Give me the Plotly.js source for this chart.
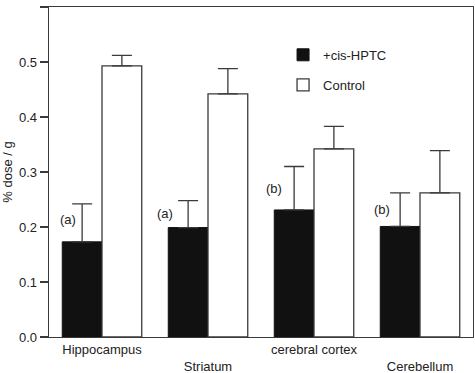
<!DOCTYPE html>
<html>
<head>
<meta charset="utf-8">
<script src="https://cdn.plot.ly/plotly-3.0.1.min.js"></script>
<style>html,body{margin:0;padding:0;background:#fff;}#chart{width:475px;height:373px;}</style>
</head>
<body>
<div id="chart"></div>
<script>
// Data
var categories = ["Hippocampus", "Striatum", "cerebral cortex", "Cerebellum"];
var hptcValues = [0.173, 0.199, 0.231, 0.201];
var hptcErrors = [0.069, 0.049, 0.079, 0.061];
var controlValues = [0.493, 0.442, 0.342, 0.262];
var controlErrors = [0.019, 0.046, 0.041, 0.077];
var seriesNames = ["+cis-HPTC", "Control"];
var sigLabels = ["(a)", "(a)", "(b)", "(b)"];
var sigY = [0.213, 0.225, 0.270, 0.231];
var sigOffset = [-0.325, -0.406, -0.377, -0.358];
var yTicks = [0.0, 0.1, 0.2, 0.3, 0.4, 0.5, 0.6];

var FONT = "Liberation Sans, Arial, Helvetica, sans-serif";
var LINE = "#3a3a3a";

function zeros(n){ var a=[]; for(var i=0;i<n;i++) a.push(0); return a; }

// staggered category labels
var tickText = categories.map(function(c, i){ return i % 2 === 1 ? "<br>" + c : c; });

var traces = [
  {
    type: "bar", name: seriesNames[0], x: categories, y: hptcValues,
    marker: {color: "#111111", line: {color: "#111111", width: 1}},
    error_y: {type: "data", symmetric: false, array: hptcErrors, arrayminus: zeros(4),
              color: LINE, thickness: 1.3, width: 10},
    legend: "legend"
  },
  {
    type: "bar", name: seriesNames[1], x: categories, y: controlValues,
    marker: {color: "#ffffff", line: {color: LINE, width: 1.3}},
    error_y: {type: "data", symmetric: false, array: controlErrors, arrayminus: zeros(4),
              color: LINE, thickness: 1.3, width: 10},
    legend: "legend2"
  }
];

var annotations = sigLabels.map(function(t, i){
  return {x: i + sigOffset[i], y: sigY[i], xref: "x", yref: "y", text: t, showarrow: false,
          font: {family: FONT, size: 13, color: "#222"}};
});

var layout = {
  width: 475, height: 373,
  margin: {l: 49, r: 2, t: 7, b: 36},
  paper_bgcolor: "#fff", plot_bgcolor: "#fff",
  font: {family: FONT, size: 13, color: "#222"},
  barmode: "group", bargap: 0.25, bargroupgap: 0,
  showlegend: true,
  legend: {x: 0.552, y: 0.855, xanchor: "left", yanchor: "middle", bgcolor: "rgba(0,0,0,0)",
           font: {family: FONT, size: 13, color: "#222"}},
  legend2: {x: 0.552, y: 0.764, xanchor: "left", yanchor: "middle", bgcolor: "rgba(0,0,0,0)",
           font: {family: FONT, size: 13, color: "#222"}},
  xaxis: {
    type: "category", tickmode: "array", tickvals: categories, ticktext: tickText,
    showline: true, mirror: true, linecolor: LINE, linewidth: 1.3,
    ticks: "", showgrid: false, zeroline: false, fixedrange: true,
    tickfont: {family: FONT, size: 13, color: "#222"}
  },
  yaxis: {
    range: [0, 0.6], tickmode: "array", tickvals: yTicks, tickformat: ".1f",
    showline: true, mirror: true, linecolor: LINE, linewidth: 1.3,
    ticks: "outside", ticklen: 8, tickwidth: 1.3, tickcolor: LINE,
    showgrid: false, zeroline: false, fixedrange: true,
    tickfont: {family: FONT, size: 13, color: "#222"},
    title: {text: "% dose / g", font: {family: FONT, size: 13, color: "#222"}, standoff: 6}
  },
  annotations: annotations
};

Plotly.newPlot("chart", traces, layout, {displayModeBar: false, staticPlot: true});
</script>
</body>
</html>
